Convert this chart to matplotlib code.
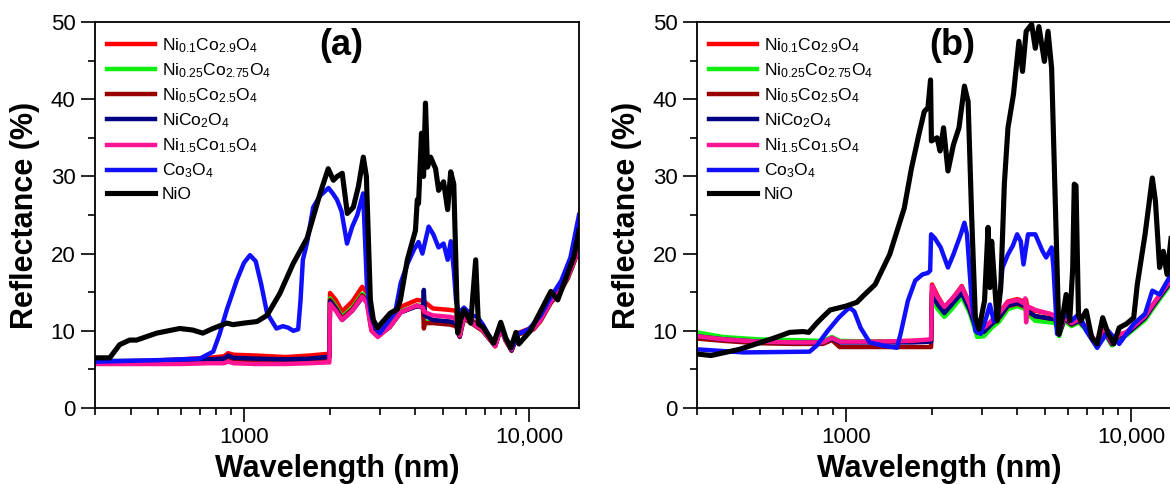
import matplotlib
matplotlib.use("Agg")
import matplotlib.pyplot as plt
from matplotlib.ticker import FixedLocator, FixedFormatter, LogLocator, NullFormatter, MultipleLocator

plt.rcParams["font.family"] = ["Liberation Sans", "DejaVu Sans"]
plt.rcParams["mathtext.fontset"] = "custom"
plt.rcParams["mathtext.rm"] = "Liberation Sans"
plt.rcParams["mathtext.it"] = "Liberation Sans"
plt.rcParams["mathtext.default"] = "regular"

# ---- panel (a) ----
wl_mix_a = [300, 450, 600, 750, 850, 880, 920, 1100, 1400, 1700,
            1950, 1995, 2005, 2100, 2210, 2400, 2600, 2700, 2800, 2950,
            3250, 3550, 4050, 4250, 4280, 4320, 4600, 5300, 5550, 5720,
            5920, 6400, 6880, 7620, 7970, 8300, 8700, 9150, 10400, 11000,
            11940, 13000, 13700, 15000]
r_ni01_a = [6.0, 6.1, 6.3, 6.5, 6.7, 7.1, 6.9, 6.8, 6.6, 6.8,
            7.0, 7.1, 14.9, 14.0, 12.5, 13.8, 15.7, 15.0, 11.0, 9.8,
            11.0, 13.1, 14.0, 13.9, 13.8, 13.7, 12.9, 12.7, 12.6, 9.5,
            12.2, 11.2, 10.3, 8.2, 10.6, 9.0, 7.6, 9.7, 10.5, 11.6,
            14.0, 15.8, 17.2, 21.0]
r_ni025_a = [6.0, 6.0, 6.1, 6.2, 6.3, 6.7, 6.4, 6.3, 6.2, 6.3,
             6.5, 6.6, 14.2, 13.2, 11.8, 13.0, 14.8, 14.2, 10.5, 9.4,
             10.6, 12.5, 13.3, 13.2, 12.0, 11.0, 11.3, 11.0, 10.8, 9.3,
             11.7, 10.8, 10.0, 8.0, 10.3, 8.7, 7.5, 9.5, 10.3, 11.3,
             13.7, 15.4, 16.8, 20.6]
r_ni05_a = [5.9, 6.0, 6.1, 6.2, 6.3, 6.6, 6.3, 6.2, 6.2, 6.3,
            6.4, 6.5, 14.0, 13.0, 11.6, 12.8, 14.6, 14.0, 10.4, 9.3,
            10.5, 12.4, 13.2, 13.0, 10.3, 11.0, 11.0, 10.8, 10.6, 9.2,
            11.6, 10.8, 10.0, 8.0, 10.3, 8.7, 7.4, 9.5, 10.2, 11.3,
            13.6, 15.3, 16.8, 20.5]
r_ni1_a = [6.1, 6.1, 6.2, 6.3, 6.4, 6.8, 6.5, 6.4, 6.3, 6.4,
           6.6, 6.7, 13.8, 12.8, 11.4, 12.6, 14.3, 13.8, 10.3, 9.3,
           10.5, 12.4, 13.2, 13.0, 15.3, 12.0, 11.4, 11.2, 11.0, 9.3,
           12.3, 11.0, 10.2, 8.1, 10.5, 8.8, 7.5, 9.6, 10.4, 11.5,
           13.8, 15.5, 17.0, 20.8]
r_ni15_a = [5.7, 5.7, 5.7, 5.8, 5.8, 6.0, 5.8, 5.7, 5.7, 5.8,
            5.9, 5.9, 13.5, 12.6, 11.4, 12.6, 14.4, 13.6, 10.0, 9.2,
            10.5, 12.4, 13.3, 13.0, 12.6, 12.4, 12.0, 11.8, 11.6, 9.4,
            11.8, 10.9, 10.1, 8.0, 10.4, 8.7, 7.6, 9.6, 10.3, 11.4,
            13.8, 15.5, 17.0, 20.7]

wl_co_a = [300, 500, 700, 780, 820, 870, 945, 1000, 1050, 1100,
           1150, 1205, 1300, 1370, 1430, 1490, 1550, 1580, 1610, 1665,
           1750, 1850, 1980, 2050, 2120, 2200, 2300, 2400, 2500, 2620,
           2660, 2700, 2780, 2850, 3000, 3250, 3400, 3550, 3750, 3950,
           4100, 4230, 4450, 4620, 4820, 5020, 5190, 5320, 5450, 5550,
           5680, 5920, 6300, 6600, 6900, 7500, 8000, 8300, 8700, 9200,
           10000, 11000, 12000, 13000, 14000, 15000]
r_co_a = [6.0, 6.2, 6.4, 7.3, 9.5, 12.7, 16.6, 18.8, 19.8, 19.0,
          16.0, 12.3, 10.3, 10.6, 10.4, 10.0, 10.2, 14.0, 19.2, 21.4,
          26.0, 27.5, 28.5, 27.8, 27.0, 25.5, 21.3, 23.5, 25.0, 27.8,
          22.0, 16.0, 12.5, 11.0, 9.7, 11.5, 12.5, 16.2, 18.7, 20.5,
          21.5, 20.0, 23.5, 22.5, 20.8, 21.3, 19.2, 21.6, 18.0, 14.0,
          12.3, 13.0, 12.0, 11.8, 10.8, 8.4, 10.8, 9.0, 7.8, 9.6,
          10.2, 12.0, 14.5, 16.5, 19.5, 25.0]

wl_nio_a = [300, 338, 366, 397, 420, 494, 595, 661, 717, 778,
            871, 915, 1000, 1111, 1205, 1339, 1488, 1666, 1851, 1976,
            2060, 2124, 2213, 2306, 2420, 2522, 2624, 2690, 2778, 2846,
            2941, 3264, 3454, 3541, 3745, 3999, 4060, 4100, 4199, 4270,
            4337, 4408, 4520, 4706, 4823, 5020, 5188, 5318, 5452, 5630,
            5769, 5915, 6105, 6250, 6507, 6650, 6900, 7528, 7970, 8311,
            8650, 9011, 9227, 10130, 11945, 12630, 14400, 15000]
r_nio_a = [6.5, 6.5, 8.2, 8.8, 8.8, 9.7, 10.3, 10.1, 9.7, 10.3,
           11.0, 10.8, 11.0, 11.2, 12.0, 14.9, 18.7, 22.0, 27.8, 31.0,
           29.5, 30.0, 30.4, 25.2, 26.0, 28.7, 32.5, 30.0, 14.0, 11.4,
           10.4, 12.3, 12.8, 14.0, 19.2, 23.0, 27.0, 26.5, 35.6, 30.0,
           39.5, 31.2, 32.5, 31.0, 28.2, 29.3, 25.7, 30.6, 29.0, 9.7,
           11.5, 12.7, 11.8, 11.0, 19.2, 10.9, 10.5, 8.4, 11.1, 9.0,
           7.8, 9.8, 8.3, 10.0, 15.1, 14.0, 19.6, 23.0]

# ---- panel (b) ----
wl_mix_b = [300, 370, 490, 650, 830, 893, 950, 1300, 1700, 1990,
            2005, 2100, 2215, 2350, 2550, 2720, 2890, 3050, 3250, 3450,
            3700, 4000, 4200, 4260, 4290, 4330, 4620, 5200, 5430, 5600,
            5840, 6190, 6575, 7080, 7620, 7970, 8580, 9100, 9650, 10240,
            11220, 11900, 12620, 13840]
r_ni01_b = [9.5, 9.0, 8.7, 8.6, 8.6, 9.1, 8.6, 8.6, 8.7, 8.8,
            16.0, 14.5, 13.0, 14.0, 15.8, 13.5, 10.2, 10.3, 11.3, 12.3,
            13.8, 14.1, 13.8, 13.7, 14.0, 13.0, 12.6, 12.2, 11.9, 9.7,
            11.8, 11.0, 11.5, 10.2, 8.1, 10.5, 8.4, 9.5, 9.8, 10.6,
            11.9, 13.3, 14.6, 16.6]
r_ni025_b = [9.8, 9.2, 8.9, 8.8, 8.7, 9.2, 8.7, 8.6, 8.6, 8.6,
             14.1, 12.8, 11.8, 12.8, 14.4, 12.3, 9.2, 9.3, 10.4, 11.2,
             12.8, 13.2, 12.9, 12.8, 12.8, 12.2, 11.3, 11.1, 11.0, 9.3,
             11.3, 10.6, 11.1, 9.8, 7.8, 10.1, 8.1, 9.1, 9.4, 10.2,
             11.4, 12.8, 14.1, 16.1]
r_ni05_b = [9.0, 8.7, 8.4, 8.3, 8.3, 8.8, 7.9, 7.9, 7.9, 7.9,
            15.2, 13.6, 12.4, 13.5, 15.0, 12.8, 9.8, 9.9, 10.9, 11.7,
            13.2, 13.5, 13.2, 13.1, 13.1, 12.5, 11.9, 11.6, 11.5, 9.5,
            11.6, 10.8, 11.3, 10.0, 8.0, 10.3, 8.3, 9.3, 9.6, 10.4,
            11.7, 13.1, 14.4, 16.4]
r_ni1_b = [9.3, 8.9, 8.6, 8.5, 8.5, 9.0, 8.5, 8.5, 8.5, 8.6,
           14.8, 13.4, 12.3, 13.4, 14.9, 12.7, 9.8, 9.9, 10.9, 11.8,
           13.3, 13.6, 13.3, 13.2, 13.2, 12.6, 11.9, 11.6, 11.5, 9.5,
           11.6, 10.9, 11.3, 10.1, 8.0, 10.3, 8.3, 9.3, 9.6, 10.4,
           11.7, 13.1, 14.4, 16.4]
r_ni15_b = [9.3, 8.9, 8.6, 8.5, 8.5, 9.1, 8.6, 8.6, 8.7, 8.9,
            15.8, 14.3, 13.1, 14.1, 15.7, 13.4, 10.3, 10.4, 11.3, 12.3,
            13.7, 14.0, 13.6, 14.2, 11.1, 13.2, 12.7, 12.2, 11.9, 9.7,
            11.8, 11.0, 11.5, 10.2, 8.1, 10.5, 8.4, 9.5, 9.8, 10.6,
            11.9, 13.3, 14.6, 16.6]

wl_co_b = [300, 438, 745, 790, 863, 943, 1000, 1030, 1070, 1125,
           1211, 1342, 1510, 1555, 1650, 1750, 1855, 1940, 1975, 1990,
           2050, 2150, 2281, 2384, 2529, 2605, 2660, 2763, 2846, 2972,
           3106, 3200, 3300, 3393, 3546, 3704, 3850, 3990, 4107, 4200,
           4357, 4620, 4900, 5045, 5272, 5350, 5510, 5840, 6191, 6575,
           6971, 7620, 8329, 9104, 10235, 11219, 11897, 12617, 13840]
r_co_b = [7.6, 7.2, 7.3, 8.1, 10.0, 11.7, 12.6, 13.0, 12.5, 10.4,
          8.5, 8.1, 7.8, 9.6, 13.9, 16.5, 17.3, 17.5, 17.8, 22.5,
          22.0, 20.8, 18.2, 19.9, 22.5, 24.0, 22.5, 13.9, 10.0, 9.6,
          11.7, 13.4, 11.3, 11.3, 18.2, 19.9, 21.0, 22.5, 21.6, 18.6,
          22.5, 22.5, 20.3, 19.5, 20.8, 18.2, 9.6, 12.2, 11.3, 12.2,
          10.0, 7.8, 10.0, 8.3, 10.9, 12.2, 15.2, 14.7, 17.3]

wl_nio_b = [300, 336, 423, 553, 635, 706, 740, 790, 830, 880,
            1000, 1093, 1148, 1266, 1424, 1602, 1699, 1802, 1883, 1940,
            1981, 1995, 2088, 2140, 2201, 2281, 2384, 2493, 2605, 2684,
            2763, 2846, 2931, 3065, 3154, 3200, 3247, 3393, 3494, 3597,
            3704, 3872, 4047, 4167, 4291, 4486, 4620, 4757, 4973, 5121,
            5272, 5429, 5590, 5756, 5927, 6102, 6250, 6330, 6420, 6550,
            6669, 6971, 7289, 7620, 7967, 8329, 8708, 9104, 9652, 10235,
            10535, 11219, 11897, 12200, 12617, 13000, 13400, 13840]
r_nio_b = [7.0, 6.8, 7.6, 9.0, 9.8, 9.9, 9.8, 11.0, 11.8, 12.7,
           13.2, 13.7, 14.5, 16.0, 19.9, 25.9, 31.1, 35.4, 38.4, 38.9,
           42.5, 34.6, 35.0, 33.3, 36.3, 30.7, 34.1, 36.3, 41.7, 39.7,
           24.7, 11.7, 10.2, 13.9, 23.4, 15.6, 21.6, 11.3, 15.6, 29.0,
           36.3, 40.6, 47.5, 43.6, 48.8, 49.7, 46.6, 49.4, 44.9, 48.8,
           44.0, 26.8, 9.6, 11.7, 14.7, 11.3, 18.0, 29.0, 28.8, 12.0,
           11.3, 12.6, 9.1, 8.3, 11.7, 9.6, 8.3, 10.4, 10.9, 11.7,
           16.0, 22.5, 29.8, 26.8, 18.2, 20.3, 17.3, 22.0]

names = [r"Ni$_{0.1}$Co$_{2.9}$O$_4$", r"Ni$_{0.25}$Co$_{2.75}$O$_4$",
         r"Ni$_{0.5}$Co$_{2.5}$O$_4$", r"NiCo$_2$O$_4$",
         r"Ni$_{1.5}$Co$_{1.5}$O$_4$", r"Co$_3$O$_4$", "NiO"]
colors = ["#ff0000", "#11ee11", "#990000", "#000080", "#ff1493", "#1010ff", "#000000"]
widths = [3.2, 3.2, 3.2, 3.2, 3.2, 3.2, 3.7]

panels = [
    ("(a)", 0.508, [(wl_mix_a, r_ni01_a), (wl_mix_a, r_ni025_a), (wl_mix_a, r_ni05_a),
                    (wl_mix_a, r_ni1_a), (wl_mix_a, r_ni15_a), (wl_co_a, r_co_a),
                    (wl_nio_a, r_nio_a)]),
    ("(b)", 0.527, [(wl_mix_b, r_ni01_b), (wl_mix_b, r_ni025_b), (wl_mix_b, r_ni05_b),
                    (wl_mix_b, r_ni1_b), (wl_mix_b, r_ni15_b), (wl_co_b, r_co_b),
                    (wl_nio_b, r_nio_b)]),
]

fig = plt.figure(figsize=(11.7, 4.84), dpi=100)
lefts = [95 / 1170, 697 / 1170]

for (tag, tag_x, series), left in zip(panels, lefts):
    ax = fig.add_axes([left, 0.157, 484 / 1170, 0.7975])
    for (wl, r), name, col, lw in zip(series, names, colors, widths):
        ax.plot(wl, r, color=col, lw=lw, label=name, solid_joinstyle="round")

    ax.set_xscale("log")
    ax.set_xlim(300, 15000)
    ax.set_ylim(0, 50)
    ax.xaxis.set_major_locator(FixedLocator([1000, 10000]))
    ax.xaxis.set_major_formatter(FixedFormatter(["1000", "10,000"]))
    ax.xaxis.set_minor_locator(LogLocator(base=10, subs=range(2, 10)))
    ax.xaxis.set_minor_formatter(NullFormatter())
    ax.yaxis.set_major_locator(MultipleLocator(10))
    ax.yaxis.set_minor_locator(MultipleLocator(5))
    ax.tick_params(which="major", length=10, width=1.2, labelsize=16, pad=4)
    ax.tick_params(which="minor", length=5, width=1.2)
    for sp in ax.spines.values():
        sp.set_linewidth(1.3)

    ax.set_xlabel("Wavelength (nm)", fontsize=22, fontweight="bold", labelpad=4)
    ax.set_ylabel("Reflectance (%)", fontsize=22, fontweight="bold", labelpad=8)
    ax.text(tag_x, 0.94, tag, transform=ax.transAxes, fontsize=26,
            fontweight="bold", ha="center", va="center")

    ax.legend(loc="upper left", bbox_to_anchor=(0.0, 0.995), frameon=False,
              fontsize=12.5, handlelength=2.75, handletextpad=0.4,
              labelspacing=0.37, borderaxespad=0.3)

fig.savefig("out.png", dpi=100)
